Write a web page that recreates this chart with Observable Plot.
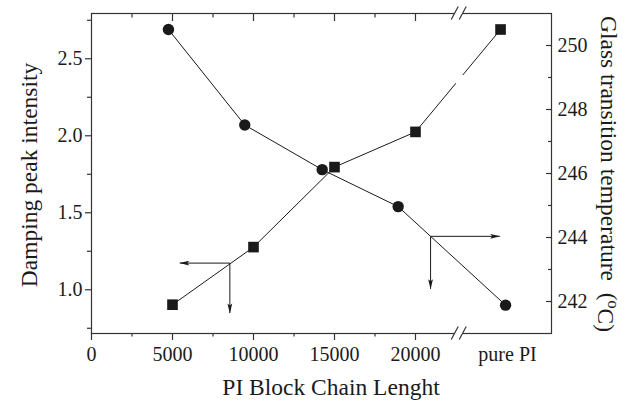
<!DOCTYPE html>
<html>
<head>
<meta charset="utf-8">
<script src="https://cdn.jsdelivr.net/npm/d3@7"></script>
<script src="https://cdn.jsdelivr.net/npm/@observablehq/plot@0.6"></script>
<style>
  html, body { margin: 0; padding: 0; background: #fff; }
  #chart { width: 631px; height: 401px; }
</style>
</head>
<body>
<div id="chart"></div>
<script>
// ---- data ----
const circleX = [4750, 9460, 14240, 18930, 25560];
const damping = [2.69, 2.07, 1.78, 1.54, 0.90];
const squareX = [5000, 10000, 15000, 20000, 25250];
const tg = [241.9, 243.7, 246.2, 247.3, 250.5];

const xTicks = [0, 5000, 10000, 15000, 20000];
const xMinorTicks = [2500, 7500, 12500, 17500];
const pureX = 25680;
const pureLabel = "pure PI";
const breakX = 22700;

const leftTicks = [1.0, 1.5, 2.0, 2.5];
const leftMinorTicks = [0.75, 1.25, 1.75, 2.25, 2.75];
const rightTicks = [242, 244, 246, 248, 250];
const rightMinorTicks = [243, 245, 247, 249];

const tgArrows = [
  {x1: 8540, y1: 243.2, x2: 5450, y2: 243.2},
  {x1: 8540, y1: 243.2, x2: 8540, y2: 241.64}
];
const dampArrows = [
  {x1: 20930, y1: 1.347, x2: 25200, y2: 1.347},
  {x1: 20930, y1: 1.347, x2: 20930, y2: 1.006}
];

const xTitle = "PI Block Chain Lenght";
const leftTitle = "Damping peak intensity";
const rightTitle = "Glass transition temperature  (";

// ---- scales ----
const leftDomain = [0.716, 2.794];
const rightDomain = [241, 251];
const toD = t => leftDomain[0] + (t - rightDomain[0]) * (leftDomain[1] - leftDomain[0]) / (rightDomain[1] - rightDomain[0]);
const fromD = d => rightDomain[0] + (d - leftDomain[0]) * (rightDomain[1] - rightDomain[0]) / (leftDomain[1] - leftDomain[0]);

const circles = circleX.map((x, i) => ({x, y: damping[i]}));
const squares = squareX.map((x, i) => ({x, y: tg[i]}));

const ink = "#1a1a1a";
const FONT = "'Liberation Serif', 'Times New Roman', serif";

const plot = Plot.plot({
  width: 631,
  height: 401,
  marginLeft: 91,
  marginRight: 80,
  marginTop: 13,
  marginBottom: 68,
  style: {fontFamily: FONT, fontSize: "20px", background: "#fff", color: ink},
  x: {domain: [0, 28395]},
  y: {domain: leftDomain},
  marks: [
    Plot.frame({stroke: "#333", strokeWidth: 1.2}),
    // bottom axis
    Plot.axisX({ticks: xTicks, tickSize: 7, tickPadding: 6, fontSize: 20, label: null, tickFormat: d => String(d), stroke: "#333", strokeWidth: 1.2}),
    Plot.axisX({ticks: xMinorTicks, tickSize: 3.5, label: null, tickFormat: () => "", stroke: "#333", strokeWidth: 1.2}),
    Plot.axisX({ticks: [pureX], tickSize: 0, tickPadding: 13, fontSize: 20, label: null, tickFormat: () => pureLabel}),
    // top axis (inward ticks)
    Plot.axisX({anchor: "top", ticks: xTicks.slice(1), tickSize: -7, label: null, tickFormat: () => "", stroke: "#333", strokeWidth: 1.2}),
    Plot.axisX({anchor: "top", ticks: xMinorTicks, tickSize: -3.5, label: null, tickFormat: () => "", stroke: "#333", strokeWidth: 1.2}),
    // left axis
    Plot.axisY({ticks: leftTicks, tickSize: 6, tickPadding: 3, fontSize: 20, label: null, tickFormat: d3.format(".1f"), stroke: "#333", strokeWidth: 1.2}),
    Plot.axisY({ticks: leftMinorTicks, tickSize: 4, label: null, tickFormat: () => "", stroke: "#333", strokeWidth: 1.2}),
    // right axis (inward ticks)
    Plot.axisY({anchor: "right", ticks: rightTicks.map(toD), tickSize: -6, tickPadding: 12, fontSize: 20, label: null, tickFormat: d => String(Math.round(fromD(d))), stroke: "#333", strokeWidth: 1.2}),
    Plot.axisY({anchor: "right", ticks: rightMinorTicks.map(toD), tickSize: -4, label: null, tickFormat: () => "", stroke: "#333", strokeWidth: 1.2}),
    // series lines
    Plot.line(circles, {x: "x", y: "y", stroke: ink, strokeWidth: 1}),
    Plot.line(squares, {x: "x", y: d => toD(d.y), stroke: ink, strokeWidth: 1}),
    // arrows
    Plot.link(tgArrows, {x1: "x1", y1: d => toD(d.y1), x2: "x2", y2: d => toD(d.y2), stroke: ink, strokeWidth: 1, markerEnd: "arrow"}),
    Plot.link(dampArrows, {x1: "x1", y1: "y1", x2: "x2", y2: "y2", stroke: ink, strokeWidth: 1, markerEnd: "arrow"}),
    // markers
    Plot.dot(circles, {x: "x", y: "y", r: 5.7, fill: ink, stroke: "none"}),
    Plot.dot(squares, {x: "x", y: d => toD(d.y), symbol: "square", r: 6.0, fill: ink, stroke: "none"})
  ]
});

document.getElementById("chart").appendChild(plot);

const svg = d3.select(plot);
const xs = plot.scale("x");
const ys = plot.scale("y");

// filled arrowhead marker (replaces Plot's open chevron)
const defs = svg.insert("defs", ":first-child");
defs.append("marker")
  .attr("id", "ahead")
  .attr("markerUnits", "userSpaceOnUse")
  .attr("viewBox", "-12 -6 24 12")
  .attr("markerWidth", 24)
  .attr("markerHeight", 12)
  .attr("refX", 0).attr("refY", 0)
  .attr("orient", "auto")
  .style("overflow", "visible")
  .append("path")
  .attr("d", "M0.5,0 L-9.5,-2.4 L-7.5,0 L-9.5,2.4 Z")
  .attr("fill", ink);
svg.selectAll("path[marker-end], [marker-end] path").each(function () {
  this.setAttribute("marker-end", "url(#ahead)");
});
svg.selectAll("g[marker-end]").attr("marker-end", null);

// gap in the square series line at the axis break
{
  const x4 = xs.apply(squareX[3]), y4 = ys.apply(toD(tg[3]));
  const x5 = xs.apply(squareX[4]), y5 = ys.apply(toD(tg[4]));
  const bx = xs.apply(breakX);
  const t = (bx - x4) / (x5 - x4);
  const px = x4 + t * (x5 - x4), py = y4 + t * (y5 - y4);
  const len = Math.hypot(x5 - x4, y5 - y4);
  const ux = (x5 - x4) / len, uy = (y5 - y4) / len;
  svg.append("line")
    .attr("x1", px - ux * 5.5).attr("y1", py - uy * 5.5)
    .attr("x2", px + ux * 5.5).attr("y2", py + uy * 5.5)
    .attr("stroke", "#fff").attr("stroke-width", 3);
}

// axis break marks on top and bottom frame
{
  const bx = xs.apply(breakX);
  const yTop = 13, yBot = 401 - 68;
  for (const yy of [yTop, yBot]) {
    svg.append("rect").attr("x", bx - 4).attr("y", yy - 2).attr("width", 8).attr("height", 4).attr("fill", "#fff");
    for (const off of [-4, 4]) {
      svg.append("line")
        .attr("x1", bx + off - 3.5).attr("y1", yy + 6.5)
        .attr("x2", bx + off + 3.5).attr("y2", yy - 6.5)
        .attr("stroke", "#333").attr("stroke-width", 1.2);
    }
  }
}

// axis titles
svg.append("text")
  .attr("x", 331).attr("y", 395)
  .attr("text-anchor", "middle")
  .style("font-family", FONT).style("font-size", "23.5px").attr("fill", ink)
  .text(xTitle);

svg.append("text")
  .attr("transform", "translate(37,175) rotate(-90)")
  .attr("text-anchor", "middle")
  .style("font-family", FONT).style("font-size", "23.5px").attr("fill", ink)
  .text(leftTitle);

{
  const t = svg.append("text")
    .attr("transform", "translate(601,174) rotate(90)")
    .attr("text-anchor", "middle")
    .style("font-family", FONT).style("font-size", "23.5px").attr("fill", ink)
    .style("white-space", "pre");
  t.append("tspan").text(rightTitle);
  t.append("tspan").attr("dy", "-0.45em").style("font-size", "16px").text("o");
  t.append("tspan").attr("dy", "0.45em").text("C)");
}
</script>
</body>
</html>
